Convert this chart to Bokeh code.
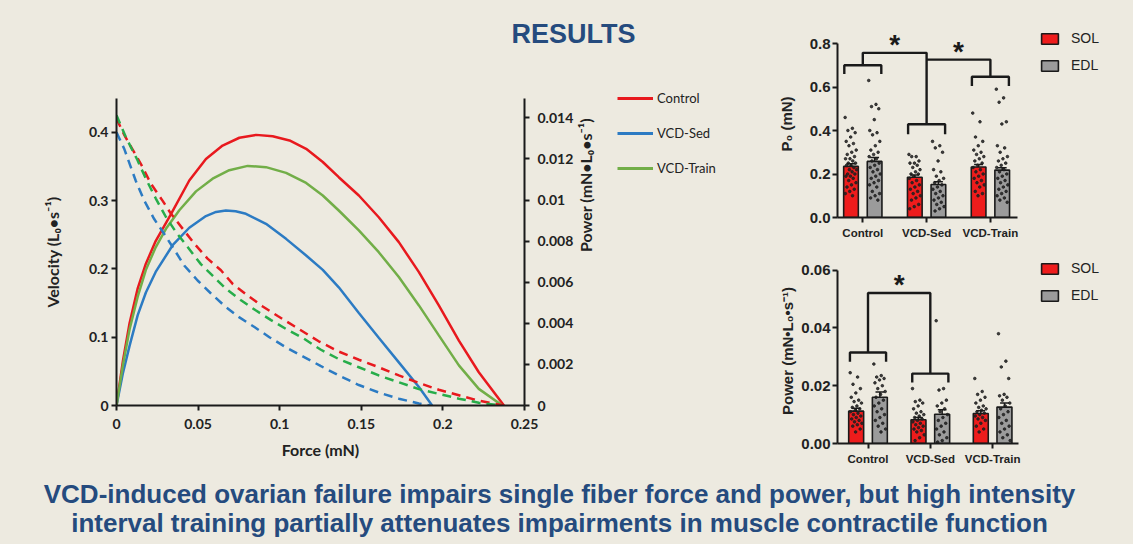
from bokeh.plotting import figure
from bokeh.layouts import row, column
from bokeh.models import Range1d, LinearAxis, FixedTicker, Legend, LegendItem
from bokeh.core.properties import value
from bokeh.embed import file_html
from bokeh.resources import INLINE

# ------------------------------------------------------------------ texts
title_text = "RESULTS"
headline_lines = [
    "VCD-induced ovarian failure impairs single fiber force and power, but high intensity",
    "interval training partially attenuates impairments in muscle contractile function",
]
groups = ["Control", "VCD-Sed", "VCD-Train"]
muscles = ["SOL", "EDL"]

# ------------------------------------------------------------------ force-velocity (dashed, left axis)
control_fv_force = [0, 0.005, 0.0108, 0.016, 0.021, 0.0282, 0.0333, 0.0405, 0.0477, 0.0558, 0.064, 0.0712,
                    0.0804, 0.0896, 0.0988, 0.109, 0.1239, 0.1362, 0.1485, 0.1607, 0.173, 0.1853, 0.1975,
                    0.2098, 0.222, 0.2374]
control_velocity = [0.420, 0.395, 0.371, 0.349, 0.325, 0.300, 0.281, 0.259, 0.237, 0.215, 0.198, 0.178,
                    0.161, 0.145, 0.131, 0.116, 0.094, 0.079, 0.067, 0.056, 0.044, 0.033, 0.023,
                    0.015, 0.007, 0.0]
sed_fv_force = [0, 0.0047, 0.0118, 0.017, 0.0231, 0.0293, 0.0344, 0.0415, 0.0497, 0.0579, 0.0661, 0.0753,
                0.0845, 0.0937, 0.1039, 0.1141, 0.125, 0.1362, 0.1485, 0.1607, 0.173, 0.1853, 0.1925]
sed_velocity = [0.400, 0.376, 0.329, 0.300, 0.273, 0.251, 0.232, 0.205, 0.183, 0.164, 0.146, 0.129,
                0.115, 0.100, 0.085, 0.072, 0.058, 0.044, 0.030, 0.019, 0.010, 0.003, 0.0]
train_fv_force = [0, 0.0057, 0.0129, 0.018, 0.0241, 0.0303, 0.0364, 0.0436, 0.0517, 0.0589, 0.067, 0.0763,
                  0.0855, 0.0947, 0.1039, 0.1141, 0.125, 0.1362, 0.1485, 0.1607, 0.173, 0.1853, 0.1975,
                  0.2098, 0.222, 0.2354]
train_velocity = [0.425, 0.393, 0.359, 0.332, 0.303, 0.276, 0.254, 0.232, 0.207, 0.190, 0.171, 0.154,
                  0.139, 0.125, 0.112, 0.099, 0.082, 0.068, 0.056, 0.044, 0.034, 0.024, 0.017,
                  0.010, 0.004, 0.0]

# ------------------------------------------------------------------ force-power (solid, right axis)
control_fp_force = [0, 0.004, 0.008, 0.013, 0.018, 0.024, 0.0333, 0.0446, 0.0548, 0.065, 0.0753, 0.0855,
                    0.0957, 0.106, 0.1162, 0.1264, 0.1362, 0.1485, 0.1607, 0.173, 0.1853, 0.1975, 0.2098,
                    0.222, 0.2374]
control_power = [0, 0.0022, 0.0040, 0.0057, 0.0069, 0.0080, 0.0093, 0.01095, 0.0120, 0.01265, 0.01303, 0.01317,
                 0.0131, 0.0129, 0.01249, 0.01185, 0.01111, 0.01022, 0.00916, 0.00795, 0.00649, 0.00487, 0.00316,
                 0.00162, 0]
sed_fp_force = [0, 0.004, 0.008, 0.013, 0.018, 0.024, 0.0344, 0.0446, 0.0548, 0.061, 0.067, 0.073, 0.0793,
                0.0916, 0.1039, 0.1162, 0.1264, 0.1362, 0.1485, 0.1607, 0.173, 0.1853, 0.1934]
sed_power = [0, 0.0016, 0.0029, 0.0044, 0.0055, 0.0065, 0.0078, 0.00865, 0.00922, 0.00942, 0.00949, 0.00945,
             0.00933, 0.00884, 0.00811, 0.0073, 0.0066, 0.00575, 0.0045, 0.0033, 0.0021, 0.0009, 0]
train_fp_force = [0, 0.004, 0.008, 0.013, 0.018, 0.024, 0.0303, 0.0385, 0.0487, 0.0589, 0.0691, 0.0804, 0.0916,
                  0.1039, 0.1162, 0.1264, 0.1362, 0.1485, 0.1607, 0.173, 0.1853, 0.1975, 0.2098, 0.222, 0.2364]
train_power = [0, 0.0020, 0.0037, 0.0053, 0.0066, 0.0077, 0.0086, 0.0095, 0.01042, 0.01104, 0.01145, 0.01166,
               0.0116, 0.01132, 0.01083, 0.01022, 0.00949, 0.00852, 0.00746, 0.00625, 0.00487, 0.00341, 0.00195,
               0.00081, 0]

force_ticks = [0, 0.05, 0.1, 0.15, 0.2, 0.25]
force_tick_labels = ["0", "0.05", "0.1", "0.15", "0.2", "0.25"]
velocity_ticks = [0, 0.1, 0.2, 0.3, 0.4]
velocity_tick_labels = ["0", "0.1", "0.2", "0.3", "0.4"]
power_ticks = [0, 0.002, 0.004, 0.006, 0.008, 0.01, 0.012, 0.014]
power_tick_labels = ["0", "0.002", "0.004", "0.006", "0.008", "0.01", "0.012", "0.014"]

# ------------------------------------------------------------------ bar charts
p0_ticks = [0, 0.2, 0.4, 0.6, 0.8]
p0_tick_labels = ["0.0", "0.2", "0.4", "0.6", "0.8"]
pw_ticks = [0, 0.02, 0.04, 0.06]
pw_tick_labels = ["0.00", "0.02", "0.04", "0.06"]

p0_sol_mean = [0.235, 0.185, 0.232]
p0_edl_mean = [0.258, 0.152, 0.218]
p0_sol_sem = [0.012, 0.010, 0.012]
p0_edl_sem = [0.018, 0.012, 0.011]
p0_sol_points = [
    [0.46, 0.41, 0.40, 0.39, 0.37, 0.35, 0.34, 0.33, 0.31, 0.30, 0.29, 0.28, 0.27, 0.27, 0.26, 0.25, 0.25, 0.24,
     0.24, 0.23, 0.22, 0.22, 0.21, 0.20, 0.20, 0.19, 0.19, 0.18, 0.17, 0.16, 0.15, 0.14, 0.13, 0.12, 0.11, 0.10],
    [0.29, 0.28, 0.28, 0.26, 0.25, 0.25, 0.24, 0.23, 0.22, 0.21, 0.20, 0.20, 0.19, 0.18, 0.17, 0.16, 0.15, 0.14,
     0.13, 0.12, 0.11, 0.10, 0.09, 0.08, 0.06, 0.05, 0.04],
    [0.48, 0.44, 0.37, 0.35, 0.33, 0.31, 0.30, 0.29, 0.28, 0.27, 0.26, 0.25, 0.24, 0.23, 0.22, 0.21, 0.20, 0.19,
     0.18, 0.17, 0.16, 0.15, 0.14, 0.12, 0.11, 0.10],
]
p0_edl_points = [
    [0.63, 0.52, 0.51, 0.50, 0.45, 0.40, 0.39, 0.38, 0.35, 0.33, 0.31, 0.30, 0.29, 0.28, 0.27, 0.26, 0.25, 0.24,
     0.23, 0.22, 0.21, 0.20, 0.19, 0.18, 0.17, 0.16, 0.15, 0.14, 0.12, 0.11, 0.10, 0.09, 0.08],
    [0.35, 0.33, 0.32, 0.30, 0.26, 0.22, 0.21, 0.19, 0.18, 0.17, 0.16, 0.15, 0.14, 0.13, 0.12, 0.11, 0.10, 0.09,
     0.08, 0.07, 0.06, 0.05, 0.04, 0.03],
    [0.59, 0.55, 0.53, 0.44, 0.43, 0.33, 0.32, 0.30, 0.28, 0.27, 0.26, 0.25, 0.24, 0.23, 0.22, 0.21, 0.20, 0.19,
     0.18, 0.17, 0.16, 0.15, 0.14, 0.13, 0.12, 0.11, 0.10, 0.09, 0.08, 0.07],
]

pw_sol_mean = [0.0112, 0.0082, 0.0104]
pw_edl_mean = [0.0160, 0.0101, 0.0126]
pw_sol_sem = [0.0010, 0.0008, 0.0009]
pw_edl_sem = [0.0018, 0.0016, 0.0014]
pw_sol_points = [
    [0.0245, 0.0230, 0.0205, 0.0190, 0.0175, 0.016, 0.015, 0.0145, 0.014, 0.013, 0.0125, 0.012, 0.0115, 0.011,
     0.0105, 0.010, 0.0095, 0.009, 0.0085, 0.008, 0.0075, 0.007, 0.0065, 0.006, 0.005, 0.004],
    [0.019, 0.015, 0.0145, 0.014, 0.013, 0.012, 0.011, 0.0105, 0.010, 0.0095, 0.009, 0.0085, 0.008, 0.0075,
     0.007, 0.0065, 0.006, 0.0055, 0.005, 0.0045, 0.004, 0.003, 0.002, 0.001],
    [0.0225, 0.018, 0.017, 0.016, 0.015, 0.014, 0.013, 0.0125, 0.012, 0.0115, 0.011, 0.0105, 0.010, 0.0095,
     0.009, 0.0085, 0.008, 0.007, 0.006, 0.005, 0.004],
]
pw_edl_points = [
    [0.0275, 0.0235, 0.0230, 0.0225, 0.0220, 0.0210, 0.020, 0.019, 0.018, 0.017, 0.016, 0.015, 0.014, 0.013,
     0.012, 0.011, 0.010, 0.009, 0.008, 0.007, 0.006, 0.005, 0.004],
    [0.0425, 0.019, 0.0185, 0.015, 0.014, 0.013, 0.012, 0.011, 0.010, 0.009, 0.008, 0.007, 0.006, 0.005, 0.004,
     0.003, 0.002, 0.001, 0.0005],
    [0.038, 0.0285, 0.0265, 0.0225, 0.017, 0.0165, 0.016, 0.015, 0.014, 0.013, 0.012, 0.011, 0.010, 0.009,
     0.008, 0.007, 0.006, 0.005, 0.004, 0.003, 0.002, 0.001],
]

# significance brackets (group index, level) and star centres
p0_brackets = [
    [(-0.29, 0.66), (-0.29, 0.70), (0.29, 0.70), (0.29, 0.66)],
    [(0, 0.70), (0, 0.757), (1, 0.757), (1, 0.429)],
    [(0.71, 0.383), (0.71, 0.429), (1.29, 0.429), (1.29, 0.383)],
    [(1, 0.726), (2, 0.726), (2, 0.647)],
    [(1.71, 0.605), (1.71, 0.647), (2.29, 0.647), (2.29, 0.605)],
]
p0_stars = [(0.5, 0.812), (1.5, 0.782)]
pw_brackets = [
    [(-0.29, 0.0283), (-0.29, 0.0315), (0.29, 0.0315), (0.29, 0.0283)],
    [(0, 0.0315), (0, 0.0521), (1, 0.0521), (1, 0.0242)],
    [(0.71, 0.0211), (0.71, 0.0242), (1.29, 0.0242), (1.29, 0.0211)],
]
pw_stars = [(0.5, 0.0563)]

# ------------------------------------------------------------------ styles
BG = "#EDEAE0"
INK = "#1A1A1A"
NAVY = "#254B7E"
RED, BLUE, GREEN = "#E8191E", "#2C7BC3", "#72AE48"
GREEN_DASH = "#27AD4A"
SOL_COLOR, EDL_COLOR = "#EE1C1C", "#9B9B9B"
STAR_PX = 28
BOX = {"background-color": BG}


def blank(width, height):
    f = figure(width=width, height=height, x_range=Range1d(0, width), y_range=Range1d(0, height),
               x_axis_type=None, y_axis_type=None, output_backend="svg", toolbar_location=None,
               min_border=0, background_fill_color=BG, border_fill_color=BG, outline_line_color=None,
               styles=BOX)
    f.grid.visible = False
    return f


def style_axis(ax, font, tick_size, label_size):
    ax.axis_line_color = INK
    ax.axis_line_width = 2
    ax.major_tick_line_color = INK
    ax.major_tick_line_width = 2
    ax.major_tick_in = 0
    ax.major_tick_out = 5
    ax.minor_tick_line_color = None
    ax.major_label_text_font = font
    ax.major_label_text_font_style = "bold"
    ax.major_label_text_font_size = tick_size
    ax.major_label_text_color = "#222222"
    ax.axis_label_text_font = font
    ax.axis_label_text_font_style = "bold"
    ax.axis_label_text_font_size = label_size
    ax.axis_label_text_color = "#222222"


# ------------------------------------------------------------------ title strip
title_fig = blank(770, 70)
title_fig.text(x=[573], y=[37], text=[title_text], text_align="center", text_baseline="middle",
               text_font=value("Liberation Sans"), text_font_style="bold", text_font_size="27px",
               text_color=NAVY)

# ------------------------------------------------------------------ line chart
lc = figure(width=608, height=400, x_range=Range1d(0, 0.25), y_range=Range1d(0, 0.4495),
            output_backend="svg", toolbar_location=None, min_border_left=116, min_border_right=84,
            min_border_top=28, min_border_bottom=65, background_fill_color=BG, border_fill_color=BG,
            outline_line_color=None, styles=BOX)
lc.grid.visible = False
lc.extra_y_ranges = {"power": Range1d(0, 0.01494)}
right_ax = LinearAxis(y_range_name="power")
lc.add_layout(right_ax, "right")

lc.xaxis[0].ticker = FixedTicker(ticks=force_ticks)
lc.xaxis[0].major_label_overrides = dict(zip(force_ticks, force_tick_labels))
lc.yaxis[0].ticker = FixedTicker(ticks=velocity_ticks)
lc.yaxis[0].major_label_overrides = dict(zip(velocity_ticks, velocity_tick_labels))
right_ax.ticker = FixedTicker(ticks=power_ticks)
right_ax.major_label_overrides = dict(zip(power_ticks, power_tick_labels))
for ax in (lc.xaxis[0], lc.yaxis[0], right_ax):
    style_axis(ax, "Lato", "14px", "16px")
lc.xaxis[0].axis_label = "Force (mN)"
lc.xaxis[0].major_label_standoff = 8
lc.xaxis[0].axis_label_standoff = 8
lc.yaxis[0].axis_label = "Velocity (L\u2080\u2022s\u207b\u00b9)"
lc.yaxis[0].major_label_standoff = 3
lc.yaxis[0].axis_label_standoff = 24
right_ax.axis_label = "Power (mN\u2022L\u2080\u2022s\u207b\u00b9)"
right_ax.major_label_standoff = 8
right_ax.axis_label_standoff = 9
right_ax.axis_label_orientation = 1.5707963267948966

for fx, py, col in ((control_fp_force, control_power, RED),
                    (sed_fp_force, sed_power, BLUE),
                    (train_fp_force, train_power, GREEN)):
    lc.line(fx, py, line_color=col, line_width=2.5, y_range_name="power")
for fx, vy, col in ((control_fv_force, control_velocity, RED),
                    (sed_fv_force, sed_velocity, BLUE),
                    (train_fv_force, train_velocity, GREEN_DASH)):
    lc.line(fx, vy, line_color=col, line_width=2.5, line_dash="9 6")

# ------------------------------------------------------------------ line legend (own strip)
lg = blank(162, 400)
leg_items = []
for name, col in zip(groups, (RED, BLUE, GREEN)):
    # placeholder renderer (nothing drawn in the strip) that only supplies the legend swatch
    r = lg.line(x=[float("nan")], y=[float("nan")], line_color=col, line_width=3)
    leg_items.append(LegendItem(label=name, renderers=[r]))
lg.add_layout(Legend(items=leg_items, location=(9, 292), padding=0, margin=0, spacing=15,
                     glyph_width=36, glyph_height=20, label_height=20, label_standoff=4,
                     label_text_font="Lato", label_text_font_size="13px", label_text_color="#222222",
                     border_line_color=None, background_fill_alpha=0))


# ------------------------------------------------------------------ bar charts
def bar_chart(height, top, bottom, x_start, x_end, x_bound, y_end, y_top, ticks, tick_labels,
              ylabel, ylabel_standoff, sol_mean, edl_mean, sol_sem, edl_sem, sol_pts, edl_pts,
              offset, bar_w, brackets, stars, legend_loc):
    p = figure(width=363, height=height, x_range=Range1d(x_start, x_end), y_range=Range1d(0, y_end),
               output_backend="svg", toolbar_location=None, min_border_left=67, min_border_right=0,
               min_border_top=top, min_border_bottom=bottom, background_fill_color=BG,
               border_fill_color=BG, outline_line_color=None, styles=BOX)
    p.grid.visible = False
    xa, ya = p.xaxis[0], p.yaxis[0]
    style_axis(xa, "Liberation Sans", "11.5px", "15px")
    style_axis(ya, "Liberation Sans", "15px", "15px")
    xa.ticker = FixedTicker(ticks=[0, 1, 2])
    xa.major_label_overrides = {i: g for i, g in enumerate(groups)}
    xa.bounds = (x_start, x_bound)
    xa.major_label_standoff = 4
    ya.ticker = FixedTicker(ticks=ticks)
    ya.major_label_overrides = dict(zip(ticks, tick_labels))
    ya.bounds = (0, y_top)
    ya.major_label_standoff = 2
    ya.axis_label = ylabel
    ya.axis_label_standoff = ylabel_standoff

    renderers = []
    for k, (means, sems, pts, col) in enumerate(((sol_mean, sol_sem, sol_pts, SOL_COLOR),
                                                 (edl_mean, edl_sem, edl_pts, EDL_COLOR))):
        xs = [g + (-offset if k == 0 else offset) for g in range(3)]
        r = p.vbar(x=xs, top=means, width=bar_w, fill_color=col, line_color=INK, line_width=1.6)
        renderers.append(r)
        dx, dy = [], []
        for xc, vals in zip(xs, pts):
            for j, v in enumerate(vals):
                dx.append(xc + ((j * 0.6180339) % 1.0 - 0.5) * bar_w * 0.8)
                dy.append(v)
        p.scatter(dx, dy, size=2.6, color="#202020", alpha=0.85)
        tops = [m + s for m, s in zip(means, sems)]
        p.segment(x0=xs, y0=means, x1=xs, y1=tops, line_color=INK, line_width=1.5)
        p.segment(x0=[x - 0.07 for x in xs], y0=tops, x1=[x + 0.07 for x in xs], y1=tops,
                  line_color=INK, line_width=1.5)
    p.multi_line(xs=[[pt[0] for pt in b] for b in brackets], ys=[[pt[1] for pt in b] for b in brackets],
                 line_color=INK, line_width=2.4)
    px_per_unit = (height - top - bottom) / y_end
    p.text(x=[s[0] for s in stars], y=[s[1] - 0.14 * STAR_PX / px_per_unit for s in stars],
           text=["*"] * len(stars), text_align="center", text_baseline="alphabetic",
           text_font=value("Liberation Sans"), text_font_style="bold",
           text_font_size=f"{STAR_PX}px", text_color=INK)
    leg = Legend(items=[LegendItem(label=m, renderers=[r]) for m, r in zip(muscles, renderers)],
                 location=legend_loc, padding=0, margin=0, spacing=11, glyph_width=21, glyph_height=13,
                 label_height=13, label_standoff=11, label_text_font="Liberation Sans",
                 label_text_font_size="14px", label_text_color="#222222", border_line_color=None,
                 background_fill_alpha=0)
    p.add_layout(leg)
    return p


b1 = bar_chart(245, 30, 28, -0.3966, 4.243, 2.42, 0.8598, 0.8, p0_ticks, p0_tick_labels,
               "P\u2080 (mN)", 12, p0_sol_mean, p0_edl_mean, p0_sol_sem, p0_edl_sem,
               p0_sol_points, p0_edl_points, 0.185, 0.23, p0_brackets, p0_stars, (202, 144))
b2 = bar_chart(225, 13, 27, -0.4896, 4.261, 2.416, 0.06404, 0.06, pw_ticks, pw_tick_labels,
               "Power (mN\u2022L\u2080\u2022s\u207b\u00b9)", 2, pw_sol_mean, pw_edl_mean, pw_sol_sem,
               pw_edl_sem, pw_sol_points, pw_edl_points, 0.19, 0.24, pw_brackets, pw_stars, (202, 140))

# ------------------------------------------------------------------ headline
bottom_fig = blank(1133, 74)
bottom_fig.text(x=[559, 559], y=[51, 22], text=headline_lines, text_align="center", text_baseline="middle",
                text_font=value("Liberation Sans"), text_font_style="bold", text_font_size="26px",
                text_color=NAVY)

left_part = column(title_fig, row(column(lc, styles=BOX), column(lg, styles=BOX), styles=BOX), styles=BOX)
page = column(row(left_part, column(b1, b2, styles=BOX), styles=BOX), bottom_fig, styles=BOX)
open("out.html", "w").write(file_html(page, INLINE))
